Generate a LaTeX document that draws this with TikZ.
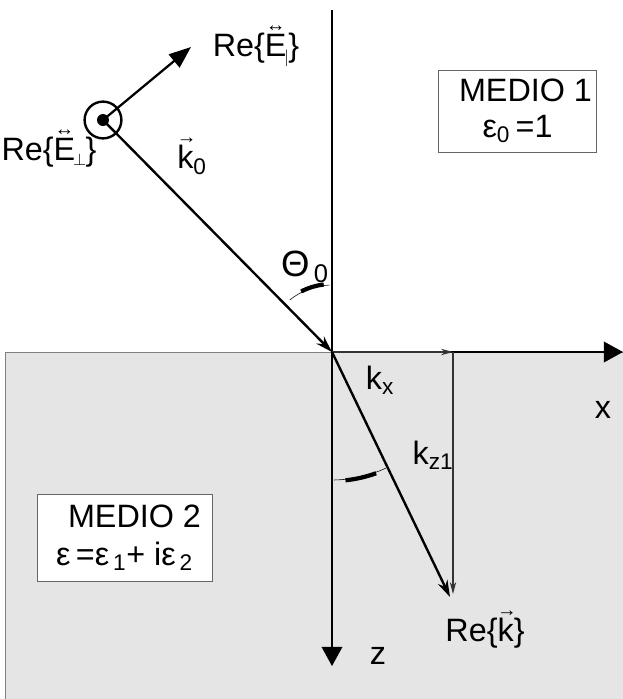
\documentclass[tikz,border=0pt]{standalone}
\usepackage{amsmath}
\usepackage{fontspec}
\setmainfont{Liberation Sans}
\usetikzlibrary{arrows.meta, positioning}
\newcommand{\markover}[2]{\ooalign{#2\cr\hidewidth\raisebox{0.78em}{\fontsize{14}{14}\selectfont #1}\hidewidth\cr}}
\newcommand{\dyadE}[1]{\markover{↔}{E}\kern-1.5pt$_{\scriptscriptstyle #1}$\kern-1pt}
\newcommand{\veck}{\markover{\kern2pt→}{k}}
\tikzset{
    lbl/.style={font=\fontsize{23}{25}\selectfont, inner sep=0pt},
    medio/.style={draw=black!60, thin, fill=white, align=center, font=\fontsize{23}{25}\selectfont},
    axis/.style={-{Triangle[length=0.48cm, width=0.52cm]}, line width=0.8pt},
    wave/.style={-{Stealth[length=0.42cm, width=0.26cm]}, line width=1.7pt},
    comp/.style={-{Stealth[length=0.3cm, width=0.16cm]}, line width=0.8pt, black!80}
}
\begin{document}
\begin{tikzpicture}[x=0.025cm, y=-0.025cm]
        \useasboundingbox (0,0) rectangle (623,699);
        \draw [black!50, fill=black!10] (5,352) rectangle (640,720);
        
        \coordinate (O) at (332,352);
        \coordinate (ztop) at (332,10);
        \coordinate (zend) at (332,666);
        \coordinate (xend) at (623,352);
        \coordinate (kxend) at (453,352);
        \coordinate (kzend) at (453,594);
        \coordinate (kend) at (450,597);
        \coordinate (Eend) at (191,47);
        
        \node [circle, draw, line width=1.7pt, minimum size=0.92cm] (src) at (103,120) {};
        \fill (src.center) circle (6);
        
        \draw [axis] (ztop) -- (zend);
        \draw [axis] (O) -- (xend);
        \draw [comp] (O) -- (kxend);
        \draw [comp] (kxend) -- (kzend);
        \draw [wave] (src.center) -- (O);
        \draw [wave] (O) -- (kend);
        \draw [-{Triangle[length=0.55cm, width=0.42cm]}, line width=1.6pt] (src.center) -- (Eend);
        
        % angle marks
        \draw [thin] (O) ++(268:67) arc[start angle=268, end angle=231, radius=67];
        \draw [line width=3pt] (O) ++(263:68) arc[start angle=263, end angle=243, radius=68];
        \draw [thin] (O) ++(89:128) arc[start angle=89, end angle=65, radius=128];
        \draw [line width=3pt] (O) ++(84:129) arc[start angle=84, end angle=70, radius=129];
        
        \node [lbl] (reEpar) at (256,50) {Re\{\dyadE{|}\}};
        \node [lbl] (reEperp) at (49,152) {Re\{\dyadE{\perp}\}};
        \node [lbl] (k0) at (192,160) {\veck\textsubscript{0}};
        \node [lbl, font=\fontsize{26}{28}\selectfont] (theta) at (305,267) {Θ\textsubscript{\,0}};
        \node [lbl] (kx) at (380,380) {k\textsubscript{x}};
        \node [lbl] (xlab) at (603,410) {x};
        \node [lbl] (kz) at (433,455) {k\textsubscript{z1}};
        \node [lbl] (zlab) at (378,656) {z};
        \node [lbl] (reK) at (485,633) {Re\{\veck\}};
        
        \node [medio, minimum width=3.725cm, minimum height=2.05cm] (m1) at (517.5,111) {\hspace*{0.4cm}MEDIO 1\\ ε\textsubscript{0}\,=1};
        \node [medio, minimum width=4.375cm, minimum height=2.175cm] (m2) at (124.5,537.5) {\hspace*{0.5cm}MEDIO 2\\[2pt] ε\,=ε\textsubscript{\,1}+ iε\textsubscript{\,2}};
    \end{tikzpicture}
\end{document}
